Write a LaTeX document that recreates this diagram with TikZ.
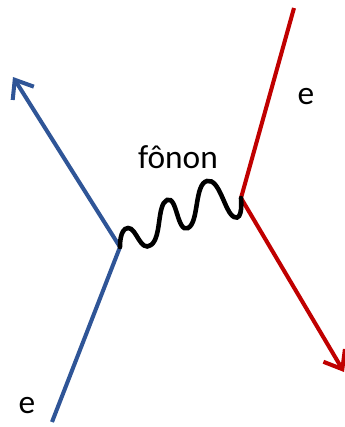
\documentclass[tikz,border=0pt]{standalone}
\usepackage{fontspec}
\setmainfont{Carlito}
\usepackage{xcolor}
\usetikzlibrary{arrows.meta}
\definecolor{eblue}{RGB}{47,85,151}
\definecolor{ered}{RGB}{192,0,0}
\begin{document}
\begin{tikzpicture}[
  x=0.02cm, y=-0.02cm,
  eline/.style={line width=2.3pt, line join=round, -{Straight Barb[length=3.2mm, width=5mm, line width=2.3pt]}},
  wave/.style={line width=2.6pt, line cap=round},
  lbl/.style={font=\fontsize{19}{22}\selectfont, inner sep=0pt}]
\useasboundingbox (0,0) rectangle (345,427);
\coordinate (bin) at (52,422);
\coordinate (bv) at (120,247);
\coordinate (bout) at (13,77);
\coordinate (rin) at (294,8);
\coordinate (rv) at (241,198);
\coordinate (rout) at (344,372);
\node[lbl] (e1) at (27,406) {e};
\node[lbl] (e2) at (306,97) {e};
\node[lbl] (fon) at (178,157) {fônon};
\draw[eline, eblue] (bin) -- (bv) -- (bout);
\draw[eline, ered] (rin) -- (rv) -- (rout);
% phonon line
\draw[wave] plot[smooth, tension=1] coordinates {(bv) (128,228) (151,245) (167,200) (188,228) (207,181) (234,217) (rv)};
\end{tikzpicture}
\end{document}
